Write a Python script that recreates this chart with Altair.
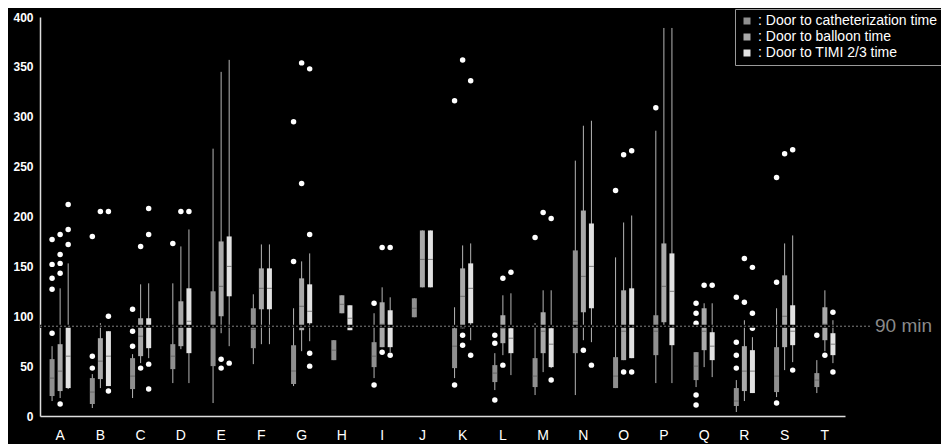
import altair as alt
import pandas as pd

categories = list("ABCDEFGHIJKLMNOPQRST")
series = ["Door to catheterization time", "Door to balloon time", "Door to TIMI 2/3 time"]
colors = ["#8f8f8f", "#a9a9a9", "#e2e2e2"]

# Door to catheterization time
cath_low  = [15, 8, 18, 33, 13, 52, 30, 56, 38, 99, 38, 26, 21, 21, 28, 33, 29, 4, 19, 23]
cath_q1   = [20, 12, 27, 47, 50, 68, 32, 56, 49, 99, 48, 34, 29, 63, 28, 61, 36, 10, 24, 29]
cath_med  = [38, 24, 40, 60, 88, 87, 45, 66, 60, 108, 70, 43, 40, 95, 40, 85, 50, 15, 40, 36]
cath_q3   = [57, 38, 58, 72, 125, 108, 71, 76, 74, 118, 88, 51, 58, 166, 59, 101, 64, 28, 69, 43]
cath_high = [70, 42, 62, 133, 268, 122, 108, 76, 103, 118, 109, 63, 93, 256, 159, 286, 64, 36, 108, 56]
cath_out = {"A": [83, 127, 138, 152, 177], "B": [48, 60, 180], "C": [70, 85, 107], "D": [173],
            "G": [155, 295], "I": [31, 113], "K": [31, 316], "L": [16, 73, 81], "M": [179],
            "O": [226], "P": [309], "Q": [11, 21, 93, 103, 113], "R": [48, 61, 74, 119],
            "S": [13, 134, 239], "T": [81]}

# Door to balloon time
ball_low  = [18, 28, 53, 67, 83, 72, 65, 103, 69, 129, 88, 61, 44, 76, 56, 90, 49, 15, 46, 65]
ball_q1   = [25, 37, 60, 70, 100, 107, 86, 103, 69, 129, 88, 73, 63, 104, 56, 94, 66, 25, 69, 76]
ball_med  = [45, 55, 80, 90, 130, 128, 110, 112, 92, 157, 120, 88, 85, 140, 85, 130, 85, 45, 100, 92]
ball_q3   = [72, 78, 98, 115, 175, 148, 138, 121, 114, 186, 148, 101, 104, 206, 126, 173, 108, 70, 141, 109]
ball_high = [128, 93, 132, 170, 345, 172, 155, 121, 129, 186, 171, 121, 126, 291, 194, 389, 113, 96, 173, 126]
ball_out = {"A": [12, 143, 153, 162, 182], "B": [205], "C": [48, 170], "D": [205], "E": [48, 57],
            "G": [233, 354], "I": [64, 169], "K": [71, 81, 357], "L": [51, 138], "M": [204],
            "N": [66], "O": [44, 262], "Q": [131], "R": [114, 158], "S": [263], "T": [61]}

# Door to TIMI 2/3 time
timi_low  = [27, 30, 58, 33, 70, 72, 75, 86, 64, 129, 76, 41, 48, 74, 58, 33, 39, 23, 54, 53]
timi_q1   = [28, 30, 68, 63, 120, 107, 93, 86, 69, 129, 93, 63, 49, 108, 58, 71, 56, 23, 71, 61]
timi_med  = [60, 60, 90, 95, 150, 128, 105, 98, 90, 157, 128, 78, 72, 150, 90, 125, 70, 45, 85, 72]
timi_q3   = [90, 85, 98, 128, 180, 148, 132, 111, 106, 186, 153, 88, 88, 193, 128, 163, 84, 66, 111, 83]
timi_high = [153, 85, 133, 187, 357, 172, 163, 111, 119, 186, 173, 123, 126, 296, 201, 389, 113, 79, 181, 96]
timi_out = {"A": [172, 187, 212], "B": [25, 100, 205], "C": [27, 52, 182, 208], "D": [205], "E": [53],
            "G": [50, 63, 182, 348], "I": [61, 169], "K": [61, 336], "L": [144], "M": [36, 198],
            "N": [51], "O": [44, 266], "Q": [131], "R": [88, 103, 149], "S": [46, 267], "T": [44, 104]}

ref_value = [90]
ref_label = ["90 min"]
y_ticks = [0, 50, 100, 150, 200, 250, 300, 350, 400]

stats = [
    (cath_low, cath_q1, cath_med, cath_q3, cath_high, cath_out),
    (ball_low, ball_q1, ball_med, ball_q3, ball_high, ball_out),
    (timi_low, timi_q1, timi_med, timi_q3, timi_high, timi_out),
]

box_rows, out_rows = [], []
for s, (lo, q1, md, q3, hi, outs) in zip(series, stats):
    for i, c in enumerate(categories):
        box_rows.append(dict(category=c, series=s, low=lo[i], q1=q1[i], med=md[i], q3=q3[i], high=hi[i]))
    for c, vals in outs.items():
        for v in vals:
            out_rows.append(dict(category=c, series=s, value=v))
box_df = pd.DataFrame(box_rows)
out_df = pd.DataFrame(out_rows)
ref_df = pd.DataFrame({"y": ref_value, "label": ref_label})

x_enc = alt.X("category:N", sort=categories,
              scale=alt.Scale(paddingInner=0.4, paddingOuter=0.2),
              axis=alt.Axis(title=None, labelAngle=0, ticks=False, labelPadding=12,
                            labelFontSize=14, labelColor="white", domainColor="#dddddd",
                            domainWidth=1.5))
xo_enc = alt.XOffset("series:N", sort=series)
y_scale = alt.Scale(domain=[0, 400], nice=False)
y_axis = alt.Axis(title=None, values=y_ticks, ticks=False, grid=False, labelPadding=7,
                  labelFontSize=12, labelFontWeight="bold", labelColor="white",
                  domainColor="#dddddd", domainWidth=1.5)

base = alt.Chart(box_df).encode(x=x_enc, xOffset=xo_enc)

whiskers = base.mark_rule(color="#b5b5b5", strokeWidth=1).encode(
    y=alt.Y("low:Q", scale=y_scale, axis=y_axis), y2="high:Q")

boxes = base.mark_bar(size=5).encode(
    y=alt.Y("q1:Q", scale=y_scale), y2="q3:Q",
    color=alt.Color("series:N", sort=series,
                    scale=alt.Scale(domain=series, range=colors),
                    legend=alt.Legend(title=None, orient="none", legendX=695, legendY=-8,
                                      symbolType="square", symbolSize=49, symbolStrokeWidth=0,
                                      labelColor="white", labelFontSize=14, labelLimit=300,
                                      labelExpr="': ' + datum.label", rowPadding=2,
                                      padding=5, fillColor="black", strokeColor="#9a9a9a")))

medians = base.mark_tick(color="#555555", thickness=1, size=5).encode(y=alt.Y("med:Q", scale=y_scale))

outliers = alt.Chart(out_df).mark_circle(color="white", size=30, opacity=1).encode(
    x=x_enc, xOffset=xo_enc, y=alt.Y("value:Q", scale=y_scale))

gap = alt.Chart(ref_df).mark_rule(color="black", strokeWidth=3).encode(
    y=alt.Y("y:Q", scale=y_scale), x=alt.value(0), x2=alt.value(832))
ref_line = alt.Chart(ref_df).mark_rule(color="#808080", strokeWidth=1, strokeDash=[2, 2]).encode(
    y=alt.Y("y:Q", scale=y_scale), x=alt.value(0), x2=alt.value(832))
ref_text = alt.Chart(ref_df).mark_text(align="left", baseline="middle", fontSize=19,
                                       color="#8a8a8a").encode(
    y=alt.Y("y:Q", scale=y_scale), x=alt.value(835), text="label:N")

chart = alt.layer(whiskers, boxes, medians, outliers, gap, ref_line, ref_text).properties(
    width=805, height=399,
    autosize=alt.AutoSizeParams(type="none"),
    padding={"left": 32, "top": 9, "right": 96, "bottom": 28},
    background="black",
).configure(font="Liberation Sans").configure_view(stroke=None)

chart.save("out.html", embed_options={"renderer": "svg", "actions": False})
